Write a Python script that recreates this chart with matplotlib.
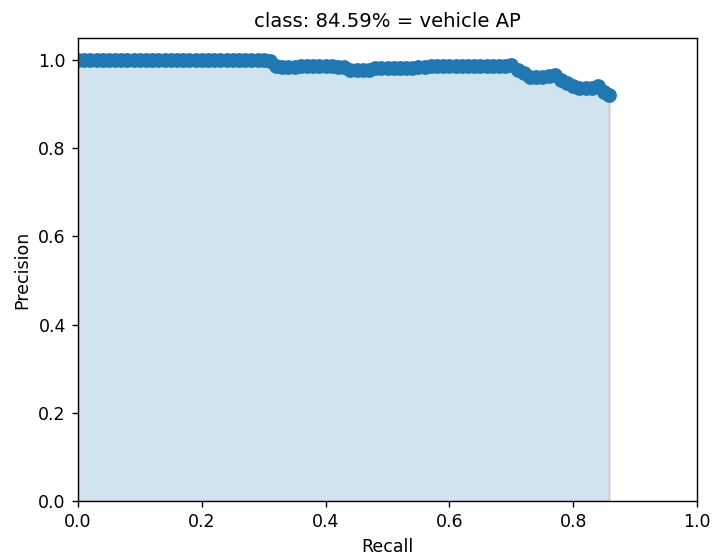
import matplotlib
matplotlib.use("Agg")
import matplotlib.pyplot as plt

# precision / recall pairs for the vehicle class
rec = [0.00, 0.01, 0.02, 0.03, 0.04, 0.05, 0.06, 0.07, 0.08, 0.09,
       0.10, 0.11, 0.12, 0.13, 0.14, 0.15, 0.16, 0.17, 0.18, 0.19,
       0.20, 0.21, 0.22, 0.23, 0.24, 0.25, 0.26, 0.27, 0.28, 0.29,
       0.30, 0.31, 0.32, 0.33, 0.34, 0.35, 0.36, 0.37, 0.38, 0.39,
       0.40, 0.41, 0.42, 0.43, 0.44, 0.45, 0.46, 0.47, 0.48, 0.49,
       0.50, 0.51, 0.52, 0.53, 0.54, 0.55, 0.56, 0.57, 0.58, 0.59,
       0.60, 0.61, 0.62, 0.63, 0.64, 0.65, 0.66, 0.67, 0.68, 0.69,
       0.70, 0.71, 0.72, 0.73, 0.74, 0.75, 0.76, 0.77, 0.78, 0.79,
       0.80, 0.81, 0.82, 0.83, 0.84, 0.85, 0.858]
prec = [1.000, 1.000, 1.000, 1.000, 1.000, 1.000, 1.000, 1.000, 1.000, 1.000,
        1.000, 1.000, 1.000, 1.000, 1.000, 1.000, 1.000, 1.000, 1.000, 1.000,
        1.000, 1.000, 1.000, 1.000, 1.000, 1.000, 1.000, 1.000, 1.000, 1.000,
        1.000, 0.998, 0.986, 0.985, 0.985, 0.985, 0.986, 0.986, 0.986, 0.986,
        0.986, 0.986, 0.985, 0.984, 0.977, 0.977, 0.977, 0.978, 0.982, 0.982,
        0.982, 0.982, 0.982, 0.982, 0.982, 0.983, 0.984, 0.986, 0.986, 0.986,
        0.986, 0.986, 0.986, 0.986, 0.986, 0.986, 0.986, 0.986, 0.986, 0.987,
        0.989, 0.978, 0.970, 0.962, 0.961, 0.962, 0.963, 0.965, 0.955, 0.947,
        0.940, 0.937, 0.936, 0.937, 0.940, 0.928, 0.920]

ap = 84.59
class_name = "vehicle"

fig = plt.figure(figsize=(5.72, 4.456), dpi=125)
ax = fig.add_axes([0.109, 0.1005, 0.866, 0.8315])

ax.plot(rec, prec, "-o", markersize=7.5)
# shaded area under the curve, closed with a vertical drop at the last recall
area_x = rec + [rec[-1]]
area_y = prec + [0.0]
ax.fill_between(area_x, 0, area_y, alpha=0.2, edgecolor="r")

ax.set_title("class: %.2f%% = %s AP" % (ap, class_name), fontsize=11.3)
ax.set_xlabel("Recall")
ax.set_ylabel("Precision")
ax.set_xlim([0.0, 1.0])
ax.set_ylim([0.0, 1.05])

fig.savefig("out.png", dpi=125)
